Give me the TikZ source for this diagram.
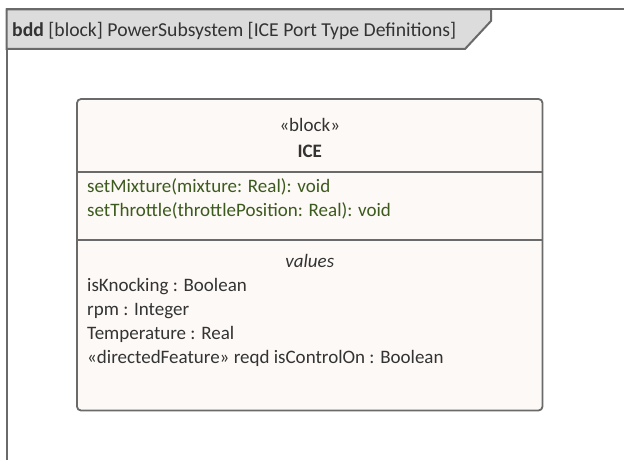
\documentclass[tikz,border=0pt]{standalone}
\usepackage{fontspec}
\setmainfont{Carlito}
\definecolor{framegray}{HTML}{6A6A6A}
\definecolor{tabfill}{HTML}{DCDCDC}
\definecolor{blockfill}{HTML}{FDF9F6}
\definecolor{txt}{HTML}{333333}
\definecolor{opgreen}{HTML}{3C5A1E}
\begin{document}
\begin{tikzpicture}[x=1pt,y=-1pt,
  frameline/.style={draw=framegray,line width=2pt},
  blockline/.style={draw=framegray,line width=1.8pt},
  txtnode/.style={inner sep=0pt,font=\fontsize{19}{22}\selectfont,text=txt},
  opnode/.style={txtnode,text=opgreen,anchor=west},
  attnode/.style={txtnode,anchor=west}]
\useasboundingbox (0,0) rectangle (624,460);
\fill[white] (0,0) rectangle (624,460);
% frame
\draw[frameline] (6.5,460) -- (6.5,9.5) -- (624,9.5);
% tab
\filldraw[fill=tabfill,frameline] (6.5,9.5) -- (491,9.5) -- (491,21) -- (465,49) -- (6.5,49) -- cycle;
\node[txtnode,anchor=base west,font=\fontsize{19.7}{22}\selectfont] (title) at (12,37) {\textbf{bdd} [block] PowerSubsystem [ICE Port Type Definitions]};
% block
\filldraw[fill=blockfill,blockline,rounded corners=4pt] (77,99) rectangle (542.5,410.5);
\draw[blockline] (77,172) -- (542.5,172);
\draw[blockline] (77,240) -- (542.5,240);
\node[txtnode,anchor=base] (stereo) at (309.75,131) {«block»};
\node[txtnode,anchor=base] (name) at (309.75,157) {\textbf{ICE}};
\node[opnode,anchor=base west] (op1) at (87,192) {setMixture(mixture: Real): void};
\node[opnode,anchor=base west] (op2) at (87,216) {setThrottle(throttlePosition: Real): void};
\node[txtnode,anchor=base] (vals) at (309.75,267) {\textit{values}};
\node[attnode,anchor=base west] (a1) at (87,291) {isKnocking : Boolean};
\node[attnode,anchor=base west] (a2) at (87,315) {rpm : Integer};
\node[attnode,anchor=base west] (a3) at (87,339) {Temperature : Real};
\node[attnode,anchor=base west] (a4) at (87,363) {«directedFeature» reqd isControlOn : Boolean};
\end{tikzpicture}
\end{document}
